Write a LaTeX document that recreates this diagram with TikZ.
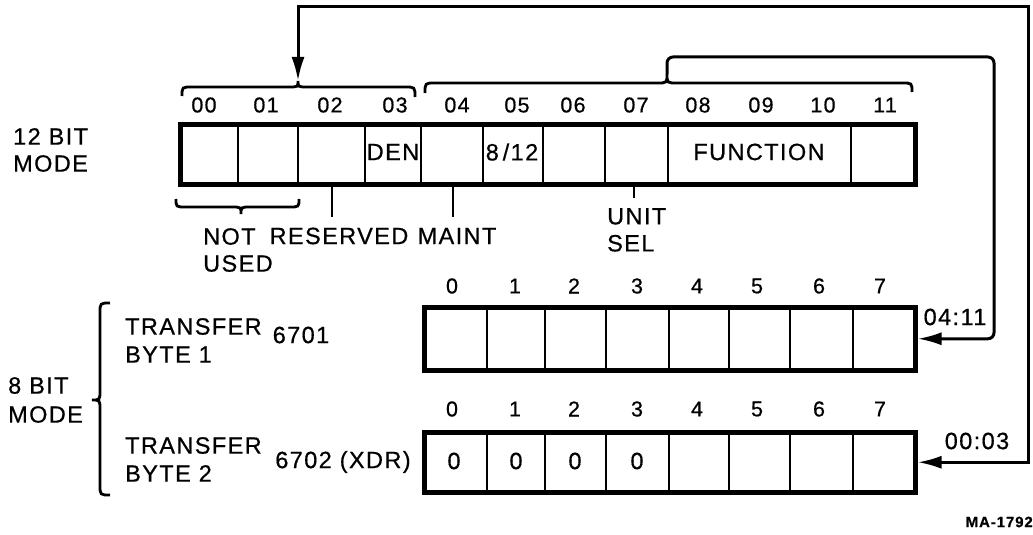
\documentclass[tikz,border=0pt]{standalone}
\usepackage{fontspec}
\setmainfont{Liberation Sans}[LetterSpace=6,FakeBold=0.6]
\usetikzlibrary{arrows.meta}

\begin{document}
\begin{tikzpicture}[x=1pt,y=-1pt,
	txt/.style={font=\fontsize{23.5}{27}\selectfont, inner sep=0pt},
	bitno/.style={font=\fontsize{21.5}{24}\selectfont, inner sep=0pt},
	reg/.style={draw, line width=4.5pt, inner sep=0pt, anchor=north west},
	cell/.style={line width=2.8pt},
	brace/.style={line width=2.8pt},
	conn/.style={line width=3pt},
	>={Latex[length=24pt,width=13pt]}]
	\useasboundingbox (0,0) rectangle (1033,535);

	% 12 bit word
	\node[reg, minimum width=735pt, minimum height=60pt] (word) at (178,122) {};
	\foreach \x in {238,298,365,421,483,543,605,668,851}
		\draw[cell] (\x,122) -- (\x,182);
	\foreach \n/\x in {00/204,01/266,02/330,03/395,04/457,05/517,06/573,07/636,08/698,09/761,10/823,11/885}
		\node[bitno] (w\n) at (\x,105) {\n};
	\node[txt] (den) at (393,152) {DEN};
	\node[txt] (mode) at (512,152) {8\,/12};
	\node[txt] (func) at (759,152) {FUNCTION};
	\node[txt, align=left, anchor=north west] (m12) at (13,128) {12 BIT\\MODE};

	% braces over the word
	\coordinate (tipA) at (298,81);
	\coordinate (tipB) at (667,74);
	\draw[brace] (182,96) .. controls (182,87) .. (192,87) -- (288,87) .. controls (298,87) .. (tipA)
		.. controls (298,87) .. (308,87) -- (405,87) .. controls (415,87) .. (415,97);
	\draw[brace] (425,93) .. controls (425,83) .. (435,83) -- (657,83) .. controls (667,83) .. (tipB)
		.. controls (667,83) .. (677,83) -- (902,83) .. controls (912,83) .. (912,92);

	% fields below the word
	\draw[brace] (176,199) .. controls (176,207) .. (186,207) -- (231,207) .. controls (241,207) .. (241,214)
		.. controls (241,207) .. (251,207) -- (289,207) .. controls (299,207) .. (299,199);
	\draw[cell] (332,182) -- (332,217);
	\draw[cell] (453,182) -- (453,217);
	\draw[cell] (634,182) -- (634,198);
	\node[txt, align=left, anchor=north west] (unused) at (203,228) {NOT\\USED};
	\node[txt] (rsv) at (339,236) {RESERVED};
	\node[txt] (maint) at (457,236) {MAINT};
	\node[txt, align=left, anchor=north west] (unit) at (607,208) {UNIT\\SEL};

	% 8 bit bytes
	\node[reg, minimum width=491pt, minimum height=63pt] (byte1) at (422,305) {};
	\node[reg, minimum width=491pt, minimum height=60pt] (byte2) at (422,430) {};
	\foreach \x in {487,545,606,669,729,790,853} {
		\draw[cell] (\x,305) -- (\x,368);
		\draw[cell] (\x,430) -- (\x,490);
	}
	\foreach \n/\x in {0/452,1/515,2/574,3/637,4/697,5/757,6/819,7/880} {
		\node[bitno] (a\n) at (\x,286) {\n};
		\node[bitno] (b\n) at (\x,409) {\n};
	}
	\foreach \x [count=\i] in {454,516,575,637}
		\node[txt] (z\i) at (\x,461) {0};

	\draw[brace] (110,303) .. controls (100,303) .. (100,313) -- (100,390) .. controls (100,400) .. (92,400)
		.. controls (100,400) .. (100,410) -- (100,485) .. controls (100,495) .. (110,495);
	\node[txt, align=left, anchor=north west, font=\fontsize{23.5}{29}\selectfont] (m8) at (8,377) {8 BIT\\MODE};
	\node[txt, align=left, anchor=north west, font=\fontsize{23.5}{28}\selectfont] (tb1) at (125,318) {TRANSFER\\BYTE 1};
	\node[txt, align=left, anchor=north west, font=\fontsize{23.5}{28}\selectfont] (tb2) at (125,437) {TRANSFER\\BYTE 2};
	\node[txt] (ad1) at (301,335) {6701};
	\node[txt] (ad2) at (343,462) {6702~(XDR)};

	% transfer paths
	\coordinate (bendA) at (1028,7);
	\coordinate (bendB) at (994,57);
	\draw[conn, <->] (byte2.east) -| (bendA) -| (tipA);
	\draw[conn, ->, rounded corners=6pt] (tipB) |- (bendB) |- (byte1.east);
	\node[txt] (r411) at (955,317) {04:11};
	\node[txt] (r003) at (977,441) {00:03};

	\node[anchor=east, inner sep=0pt, font=\fontsize{15}{18}\bfseries] (fig) at (1033,522) {MA-1792};
\end{tikzpicture}
\end{document}
